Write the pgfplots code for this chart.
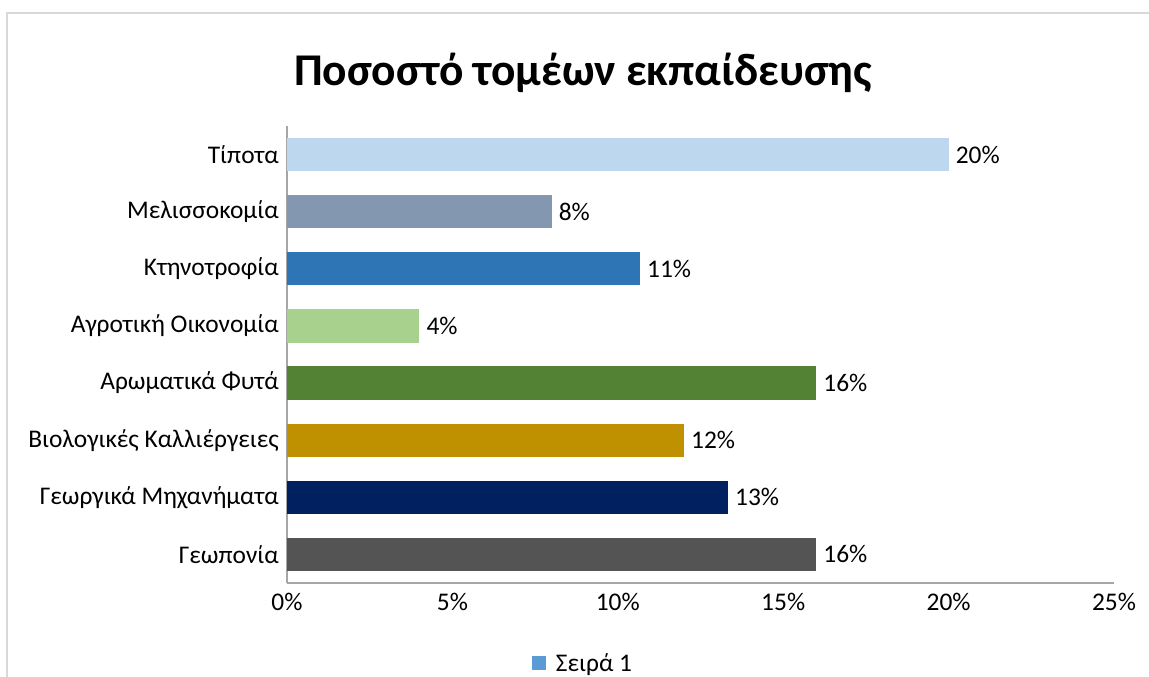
\documentclass[border=0pt]{standalone}
\usepackage{pgfplots}
\pgfplotsset{compat=1.18}
\usepackage{fontspec}
\setmainfont{Carlito}

\definecolor{cTipota}{HTML}{BDD7EE}
\definecolor{cMelis}{HTML}{8497B0}
\definecolor{cKtin}{HTML}{2E75B6}
\definecolor{cAgro}{HTML}{A9D18E}
\definecolor{cArom}{HTML}{548235}
\definecolor{cBio}{HTML}{BF9000}
\definecolor{cMich}{HTML}{002060}
\definecolor{cGeop}{HTML}{545454}
\definecolor{cSeries}{HTML}{5B9BD5}
\definecolor{axisgray}{HTML}{A6A6A6}
\definecolor{framegray}{HTML}{D9D9D9}

\begin{document}
\begin{tikzpicture}[x=1bp,y=1bp]
    \useasboundingbox (-287,-94) rectangle (862,583);
    % chart frame (cropped on the right and at the bottom)
    \draw[framegray, line width=2bp] (-280,-120) -- (-280,570) -- (900,570);

    \begin{axis}[
        at={(0,0)}, anchor=south west,
        xbar,
        scale only axis,
        width=827bp,
        height=457bp,
        xmin=0, xmax=25,
        ymin=-0.5, ymax=7.5,
        bar width=0.58,
        bar shift=0pt,
        axis lines*=left,
        axis line style={axisgray, line width=1.5bp},
        major tick length=0pt,
        xtick={0,5,10,15,20,25},
        xticklabel={\pgfmathprintnumber{\tick}\%},
        /pgf/number format/assume math mode=true,
        ytick={0,1,2,3,4,5,6,7},
        yticklabels={Γεωπονία, Γεωργικά Μηχανήματα, Βιολογικές Καλλιέργειες,
            Αρωματικά Φυτά, Αγροτική Οικονομία, Κτηνοτροφία, Μελισσοκομία, Τίποτα},
        tick label style={font=\fontsize{25.5}{30}\selectfont, black},
        yticklabel style={inner sep=0pt, xshift=-8bp},
        xticklabel style={inner sep=0pt, yshift=-10bp},
        nodes near coords={\pgfmathprintnumber[fixed,precision=0]{\pgfplotspointmeta}\%},
        nodes near coords style={font=\fontsize{25.5}{30}\selectfont, black, inner sep=0pt, xshift=7bp},
        point meta=x,
        legend style={at={(296bp,-80bp)}, anchor=center, draw=none,
            font=\fontsize{25.5}{30}\selectfont, inner sep=0pt},
        legend cell align=left,
    ]
        \addplot[draw=none, fill=cGeop, forget plot] coordinates {(16,0)};
        \addplot[draw=none, fill=cMich, forget plot] coordinates {(13.33,1)};
        \addplot[draw=none, fill=cBio, forget plot] coordinates {(12,2)};
        \addplot[draw=none, fill=cArom, forget plot] coordinates {(16,3)};
        \addplot[draw=none, fill=cAgro, forget plot] coordinates {(4,4)};
        \addplot[draw=none, fill=cKtin, forget plot] coordinates {(10.67,5)};
        \addplot[draw=none, fill=cMelis, forget plot] coordinates {(8,6)};
        \addplot[draw=none, fill=cTipota, forget plot] coordinates {(20,7)};
        \addlegendimage{legend image code/.code={
            \fill[cSeries, draw=none] (0bp,-7bp) rectangle (14bp,7bp);
            \path[draw=none, fill=none] (0bp,-1bp) rectangle (22bp,1bp);}}
        \addlegendentry{Σειρά 1}
    \end{axis}

    \node[font=\fontsize{45.6}{54}\selectfont\bfseries] at (296,510) {Ποσοστό τομέων εκπαίδευσης};
\end{tikzpicture}
\end{document}
